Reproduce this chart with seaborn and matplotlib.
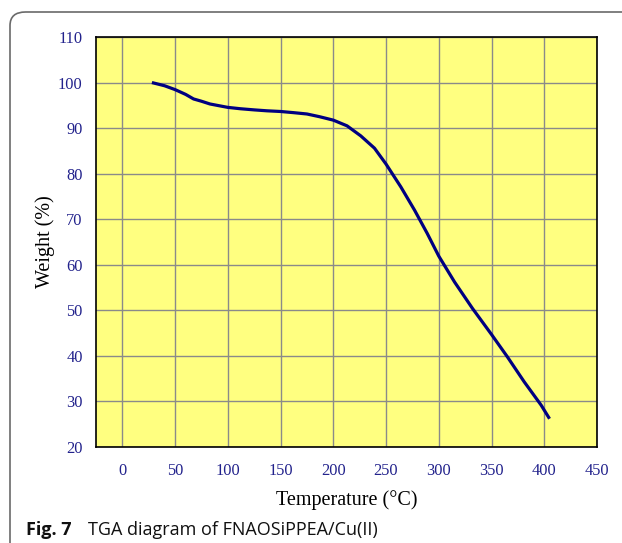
import matplotlib
matplotlib.use("Agg")
import matplotlib.pyplot as plt
from matplotlib.ticker import MultipleLocator
from matplotlib.patches import FancyBboxPatch
import seaborn as sns
import pandas as pd

# Data
temperature = [28, 40, 50, 60, 67.5, 75, 83, 92, 100, 112, 125, 137, 150, 162,
               175, 187, 200, 213, 226, 239, 250, 264, 277, 289, 300, 315, 332,
               350, 365, 381, 397, 405]
weight = [100.0, 99.3, 98.45, 97.4, 96.4, 95.9, 95.3, 94.9, 94.55, 94.25, 94.0,
          93.8, 93.65, 93.4, 93.1, 92.5, 91.75, 90.5, 88.3, 85.6, 82.1, 77.1,
          72.0, 66.9, 61.9, 56.2, 50.4, 44.7, 39.8, 34.3, 29.2, 26.2]
x_ticks = [0, 50, 100, 150, 200, 250, 300, 350, 400, 450]
y_ticks = [20, 30, 40, 50, 60, 70, 80, 90, 100, 110]
x_label = "Temperature (°C)"
y_label = "Weight (%)"
caption_bold = "Fig. 7"
caption_text = "TGA diagram of FNAOSiPPEA/Cu(II)"

df = pd.DataFrame({"Temperature": temperature, "Weight": weight})

sns.set_style("white")
plt.rcParams["font.family"] = ["Liberation Serif", "DejaVu Serif"]

W, H = 622, 543
fig = plt.figure(figsize=(W / 100, H / 100), dpi=100)
ax = fig.add_axes([96 / W, 1 - 447 / H, (597 - 96) / W, (447 - 37) / H])

# outer rounded frame (open to the right / bottom as in reference)
frame = FancyBboxPatch((10 / W, -0.2), 1.2, 1 - 12 / H + 0.2,
                       boxstyle="round,pad=0,rounding_size=0.025",
                       transform=fig.transFigure, fill=False,
                       edgecolor="#6a6a6a", linewidth=1.2, clip_on=False)
fig.patches.append(frame)

ax.set_facecolor("#ffff80")
sns.lineplot(data=df, x="Temperature", y="Weight", ax=ax, color="#000080",
             linewidth=2.3, sort=False)
for ln in ax.lines:
    ln.set_solid_joinstyle("round")
    ln.set_solid_capstyle("butt")

ax.set_xlim(-25, 450)
ax.set_ylim(20, 110)
ax.set_xticks(x_ticks)
ax.set_yticks(y_ticks)
ax.xaxis.set_minor_locator(MultipleLocator(25))
ax.yaxis.set_minor_locator(MultipleLocator(5))
ax.grid(True, which="major", color="#8a8a8a", linewidth=1.0)
ax.set_axisbelow(True)

tick_color = "#22228c"
ax.tick_params(axis="both", which="major", direction="out", length=5.5, width=1.1,
               color="black", labelcolor=tick_color, labelsize=11.8, pad=4)
ax.tick_params(axis="both", which="minor", direction="out", length=3, width=1.0,
               color="black")
ax.tick_params(axis="x", which="major", pad=6)
for s in ax.spines.values():
    s.set_visible(True)
    s.set_color("black")
    s.set_linewidth(1.2)

ax.set_xlabel(x_label, fontsize=14.5, color="black", labelpad=8)
ax.set_ylabel(y_label, fontsize=14.5, color="black", labelpad=2)

fig.text(26 / W, 1 - 530 / H, caption_bold, fontsize=13, fontweight="bold",
         family=["Open Sans", "DejaVu Sans"], va="center", ha="left", color="#111111")
fig.text(88 / W, 1 - 530 / H, caption_text, fontsize=13,
         family=["Open Sans", "DejaVu Sans"], va="center", ha="left", color="#111111")

fig.savefig("out.png", dpi=100)
